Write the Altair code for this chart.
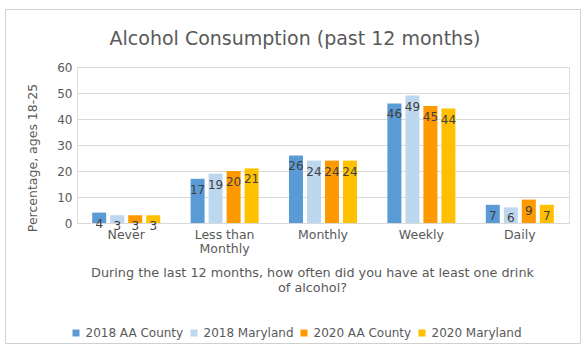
import altair as alt
import pandas as pd

categories = ["Never", "Less than Monthly", "Monthly", "Weekly", "Daily"]
series = ["2018 AA County", "2018 Maryland", "2020 AA County", "2020 Maryland"]
aa_2018 = [4, 17, 26, 46, 7]
md_2018 = [3, 19, 24, 49, 6]
aa_2020 = [3, 20, 24, 45, 9]
md_2020 = [3, 21, 24, 44, 7]
colors = ["#5B9BD5", "#BDD7EE", "#FF9900", "#FFC000"]
y_ticks = [0, 10, 20, 30, 40, 50, 60]
title_text = "Alcohol Consumption (past 12 months)"
x_title = ["During the last 12 months, how often did you have at least one drink", "of alcohol?"]
y_title = "Percentage, ages 18-25"

rows = []
for s, vals in zip(series, [aa_2018, md_2018, aa_2020, md_2020]):
    for c, v in zip(categories, vals):
        rows.append({"category": c, "series": s, "value": v})
df = pd.DataFrame(rows)

FONT = "DejaVu Sans"
GRAY = "#595959"

base = alt.Chart(df).encode(
    x=alt.X(
        "category:N",
        sort=categories,
        scale=alt.Scale(paddingInner=0.268, paddingOuter=0.134),
        axis=alt.Axis(
            title=x_title,
            titleX=235,
            titleY=53.5,
            titleAlign="center",
            titleBaseline="alphabetic",
            titleFontSize=12.8,
            titleFontWeight="normal",
            titleColor=GRAY,
            titleLineHeight=15,
            labelAngle=0,
            labelExpr="datum.value == 'Less than Monthly' ? ['Less than', 'Monthly'] : datum.value",
            labelFontSize=12.5,
            labelColor=GRAY,
            labelLineHeight=14.5,
            labelPadding=5,
            ticks=False,
            domainColor="#d9d9d9",
            grid=False,
        ),
    ),
    xOffset=alt.XOffset(
        "series:N",
        sort=series,
        scale=alt.Scale(paddingInner=0.222, paddingOuter=0.111),
    ),
    y=alt.Y(
        "value:Q",
        scale=alt.Scale(domain=[0, 60]),
        axis=alt.Axis(
            values=y_ticks,
            title=y_title,
            titleX=-40.5,
            titleY=90.5,
            titleAngle=270,
            titleAlign="center",
            titleBaseline="alphabetic",
            titleFontSize=12.5,
            titleFontWeight="normal",
            titleColor=GRAY,
            labelFontSize=12,
            labelColor=GRAY,
            labelPadding=5,
            ticks=False,
            domain=False,
            gridColor="#d9d9d9",
        ),
    ),
)

bars = base.mark_bar().encode(
    color=alt.Color(
        "series:N",
        sort=series,
        scale=alt.Scale(domain=series, range=colors),
        legend=alt.Legend(
            title=None,
            orient="none",
            legendX=-7,
            legendY=260,
            direction="horizontal",
            symbolType="square",
            symbolSize=49,
            symbolStrokeWidth=0,
            labelFont=FONT,
            labelFontSize=12,
            labelColor=GRAY,
            labelOffset=3.5,
            columnPadding=4,
            padding=0,
        ),
    )
)

labels = base.mark_text(
    baseline="alphabetic", dy=15, fontSize=12, color="#404040", font=FONT
).encode(text="value:Q")

title = alt.Chart(alt.Data(values=[{"t": title_text}])).mark_text(
    fontSize=19, color=GRAY, font=FONT, baseline="alphabetic", align="center"
).encode(text="t:N", x=alt.value(218), y=alt.value(-22))

frame = alt.Chart(alt.Data(values=[{"a": 1}])).mark_rect(
    filled=False, stroke="#d0d0d0", strokeWidth=1
).encode(x=alt.value(-71.5), x2=alt.value(503.5), y=alt.value(-57.5), y2=alt.value(276.5))

chart = alt.layer(frame, bars, labels, title).properties(
    width=492,
    height=156,
    autosize=alt.AutoSizeParams(type="none"),
    padding={"left": 77, "top": 67, "right": 19, "bottom": 130},
    background="white",
).configure_view(stroke=None).configure(font=FONT)

chart.save("out.html", embed_options={"renderer": "svg", "actions": False})
